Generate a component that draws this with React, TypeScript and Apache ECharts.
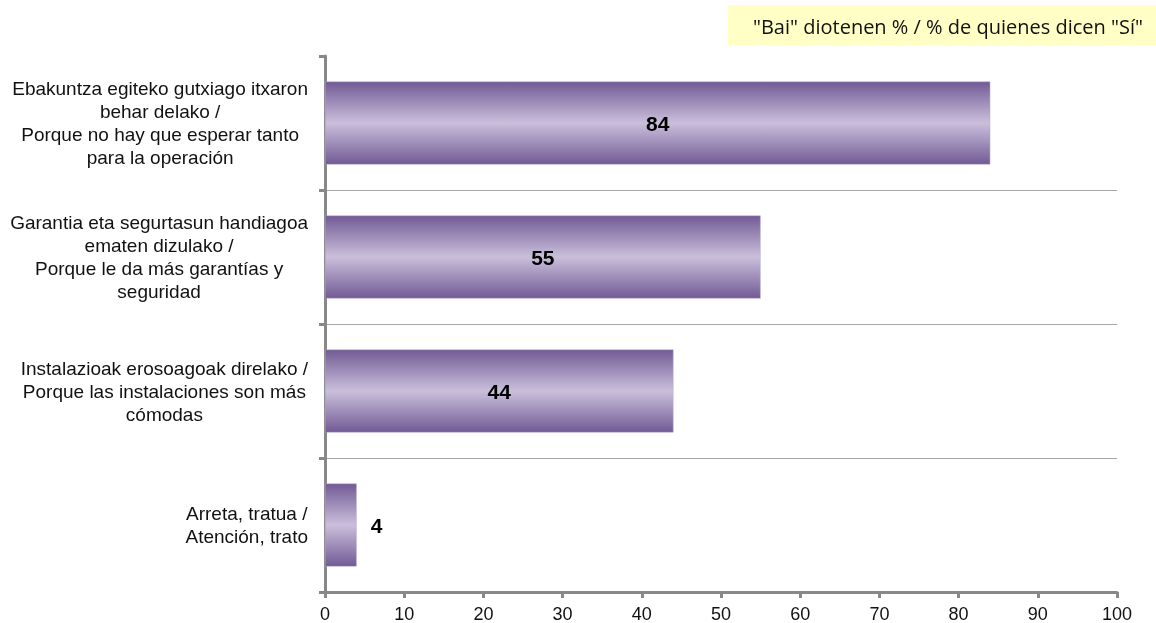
import React, { useEffect, useRef } from "react";
import * as echarts from "echarts";

const categories = [
  "Ebakuntza egiteko gutxiago itxaron\nbehar delako /\nPorque no hay que esperar tanto\npara la operación",
  "Garantia eta segurtasun handiagoa\nematen dizulako /\nPorque le da más garantías y\nseguridad",
  "Instalazioak erosoagoak direlako /\nPorque las instalaciones son más\ncómodas",
  "Arreta, tratua /\nAtención, trato",
];
const values = [84, 55, 44, 4];
const labelPositions = ["inside", "inside", "inside", "right"];
const titleText = '"Bai" diotenen % / % de quienes dicen "Sí"';

export default function App() {
  const ref = useRef<HTMLDivElement>(null);
  useEffect(() => {
    const chart = echarts.init(ref.current!, null, { renderer: "svg" });
    const grad = new echarts.graphic.LinearGradient(0, 0, 0, 1, [
      { offset: 0, color: "#725a95" },
      { offset: 0.5, color: "#cabfdb" },
      { offset: 1, color: "#725a95" },
    ]);
    const font = '"Liberation Sans", Arial, sans-serif';
    chart.setOption({
      animation: false,
      grid: { left: 325, right: 39, top: 56, bottom: 31, containLabel: false },
      graphic: [
        {
          type: "rect",
          shape: { x: 728, y: 5, width: 428, height: 40 },
          style: { fill: "#ffffc6" },
        },
        {
          type: "text",
          x: 1143,
          y: 26,
          style: {
            text: titleText,
            font: '20px "Open Sans", "Noto Sans", sans-serif',
            fill: "#111",
            textAlign: "right",
            textVerticalAlign: "middle",
          },
        },
      ],
      xAxis: {
        type: "value",
        min: 0,
        max: 100,
        interval: 10,
        axisLine: { show: true, lineStyle: { color: "#888", width: 3 } },
        axisTick: { show: true, length: 6, lineStyle: { color: "#888", width: 3 } },
        axisLabel: {
          color: "#111",
          fontSize: 18,
          fontFamily: font,
          margin: 13,
        },
        splitLine: { show: false },
      },
      yAxis: {
        type: "category",
        inverse: true,
        data: categories,
        axisLine: { show: true, lineStyle: { color: "#888", width: 3 } },
        axisTick: { show: true, length: 6, lineStyle: { color: "#888", width: 3 } },
        axisLabel: {
          color: "#111",
          fontSize: 19,
          lineHeight: 23,
          fontFamily: font,
          margin: 17,
          align: "right",
          formatter: (v: string) =>
            v
              .split("\n")
              .map((l) => "{c|" + l + "}")
              .join("\n"),
          rich: {
            c: {
              align: "center",
              color: "#111",
              fontSize: 19,
              lineHeight: 23,
              fontFamily: font,
            },
          },
        },
        splitLine: {
          show: true,
          lineStyle: {
            color: ["rgba(0,0,0,0)", "#a6a6a6", "#a6a6a6", "#a6a6a6", "rgba(0,0,0,0)"],
            width: 1,
          },
        },
      },
      series: [
        {
          type: "bar",
          data: values.map((v, i) => ({
            value: v,
            label: {
              position: labelPositions[i],
              distance: 14,
            },
          })),
          barWidth: 83,
          itemStyle: { color: grad, borderColor: "#b9aed0", borderWidth: 0.5 },
          label: {
            show: true,
            color: "#000",
            fontWeight: "bold",
            fontSize: 21,
            fontFamily: font,
          },
        },
      ],
    });
    return () => chart.dispose();
  }, []);
  return <div ref={ref} style={{ width: 1156, height: 623, position: "fixed", left: 0, top: 0 }} />;
}
